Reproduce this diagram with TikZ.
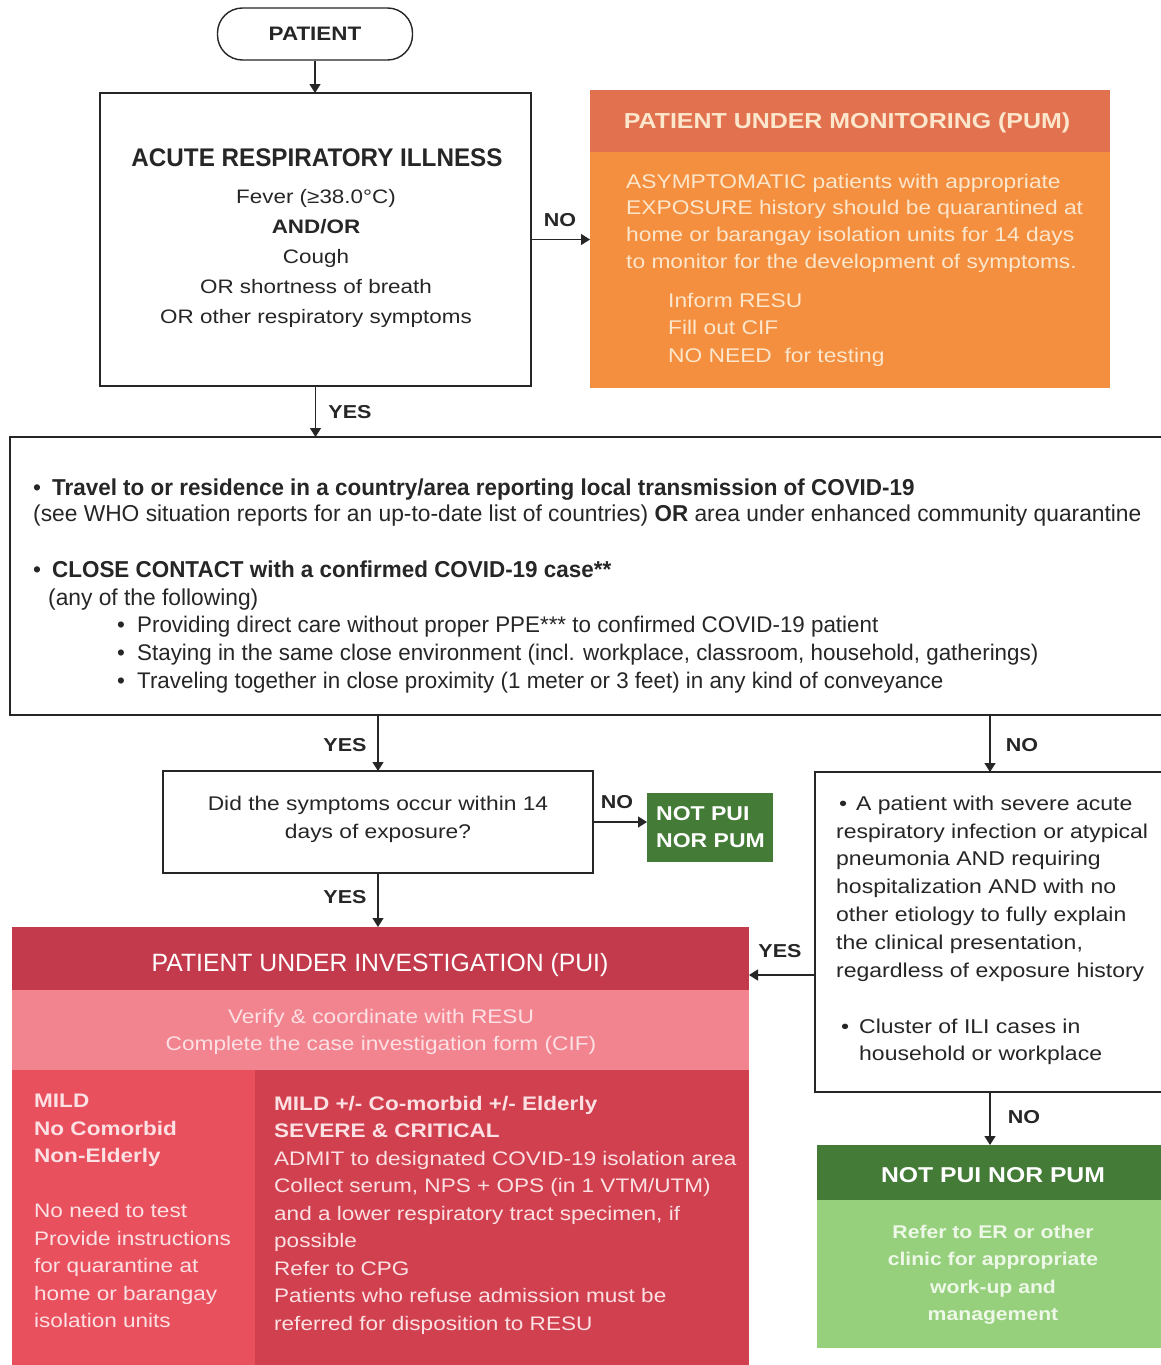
\documentclass[tikz,border=0pt]{standalone}
\usepackage{fontspec}
\setmainfont[FakeStretch=1.15]{Liberation Sans}
\newfontfamily\plainfont[FakeStretch=0.99]{Liberation Sans}
\newfontfamily\plainbold[FakeStretch=0.975,UprightFont={* Bold}]{Liberation Sans}
\newfontfamily\arifont[FakeStretch=0.95]{Liberation Sans}
\usetikzlibrary{arrows.meta}
\definecolor{pumhead}{HTML}{E2714F}
\definecolor{pumbody}{HTML}{F38F3F}
\definecolor{pumtext}{HTML}{FCE6CC}
\definecolor{puihead}{HTML}{C23A4B}
\definecolor{puiband}{HTML}{F2848F}
\definecolor{puileft}{HTML}{E8505E}
\definecolor{puiright}{HTML}{D0404E}
\definecolor{puitext}{HTML}{FCE0E3}
\definecolor{gdark}{HTML}{437B37}
\definecolor{glight}{HTML}{96D07C}
\definecolor{gtext}{HTML}{EEF8E8}
\definecolor{ink}{HTML}{262626}
\newcommand{\fs}[2]{\fontsize{#1}{#2}\selectfont}
\newcommand{\mbold}[1]{{\plainbold\bfseries #1}}
\begin{document}
\begin{tikzpicture}[x=1pt,y=-1pt,
  box/.style={draw=ink,line width=1.4pt,anchor=north west,inner sep=0,outer sep=0},
  fillbox/.style={anchor=north west,inner sep=0,outer sep=0,draw=none},
  arr/.style={draw=ink,line width=1.4pt,-{Triangle[width=11pt,length=9pt]}},
  lbl/.style={font=\bfseries\fs{18.7}{19},text=ink,inner sep=0},
  txt/.style={inner sep=0,text=ink},
]
\useasboundingbox (0,0) rectangle (1160,1365);
\fill[white] (0,0) rectangle (1160,1365);

% PATIENT
\node[draw=ink,line width=1.4pt,rounded corners=25pt,minimum width=195pt,minimum height=52pt,inner sep=0,font=\bfseries\fs{19.5}{19},text=ink] (patient) at (315,34) {PATIENT};

% ARI
\node[box,minimum width=431pt,minimum height=293pt] (ari) at (100,93) {};
\node[txt,anchor=north,font=\arifont\bfseries\fs{25.5}{25}] (arititle) at (317,148) {ACUTE RESPIRATORY ILLNESS};
\node[txt,anchor=north,align=center,font=\fs{19.5}{30}] (aribody) at (316,189) {Fever (≥38.0°C)\\\textbf{AND/OR}\\Cough\\OR shortness of breath\\OR other respiratory symptoms};

% PUM
\node[fillbox,fill=pumbody,minimum width=520pt,minimum height=298pt] (pum) at (590,90) {};
\node[fillbox,fill=pumhead,minimum width=520pt,minimum height=62pt] (pumhead) at (590,90) {};
\node[txt,anchor=north,text=pumtext,font=\bfseries\fs{21.7}{21}] (pumtitle) at (847,113) {PATIENT UNDER MONITORING (PUM)};
\node[txt,anchor=north west,align=left,text=pumtext,font=\fs{19.8}{26.7}] (pumbody1) at (626,173.5) {ASYMPTOMATIC patients with appropriate\\EXPOSURE history should be quarantined at\\home or barangay isolation units for 14 days\\to monitor for the development of symptoms.};
\node[txt,anchor=north west,align=left,text=pumtext,font=\fs{19.8}{27.5}] (pumbody2) at (668,292.5) {Inform RESU\\Fill out CIF\\NO NEED\ \ for testing};

% Exposure box
\node[box,minimum width=1160pt,minimum height=278pt] (big) at (10,437) {};
\node[txt,anchor=north west,align=left,font=\plainfont\fs{23}{26}] (mb1) at (33,478.5) {\makebox[19pt][l]{\textbullet}\mbold{Travel to or residence in a country/area reporting local transmission of COVID-19}\\(see WHO situation reports for an up-to-date list of countries) \mbold{OR} area under enhanced community quarantine};
\node[txt,anchor=north west,align=left,font=\plainfont\fs{23}{28}] (mb2) at (33,560.5) {\makebox[19pt][l]{\textbullet}\mbold{CLOSE CONTACT with a confirmed COVID-19 case**}};
\node[txt,anchor=north west,align=left,font=\plainfont\fs{23}{28}] (mb3) at (48,588.5) {(any of the following)};
\node[txt,anchor=north west,align=left,font=\plainfont\fs{22.6}{28}] (mb4) at (117,615.5) {\makebox[20pt][l]{\textbullet}Providing direct care without proper PPE*** to confirmed COVID-19 patient\\\makebox[20pt][l]{\textbullet}Staying in the same close environment (incl. workplace, classroom, household, gatherings)\\\makebox[20pt][l]{\textbullet}Traveling together in close proximity (1 meter or 3 feet) in any kind of conveyance};

% Question box
\node[box,minimum width=430pt,minimum height=102pt] (qbox) at (163,771) {};
\node[txt,anchor=north,align=center,font=\fs{19.8}{28}] (qtext) at (378,795.5) {Did the symptoms occur within 14\\days of exposure?};

% small green
\node[fillbox,fill=gdark,minimum width=126pt,minimum height=69pt] (nopui) at (647,793) {};
\node[txt,anchor=north west,align=left,text=white,font=\bfseries\fs{20}{27}] (nopuitext) at (656,806) {NOT PUI\\NOR PUM};

% Right box
\node[box,minimum width=350pt,minimum height=320pt] (rbox) at (815,772) {};
\node[txt,anchor=north west,align=left,font=\fs{20}{27.8}] (rtext1) at (836,795.5) {\makebox[20pt][l]{\hspace{3pt}\textbullet}A patient with severe acute\\respiratory infection or atypical\\pneumonia AND requiring\\hospitalization AND with no\\other etiology to fully explain\\the clinical presentation,\\regardless of exposure history};
\node[txt,anchor=north west,align=left,font=\fs{20}{27.5}] (rtext2) at (841,1018.5) {\makebox[18pt][l]{\textbullet}Cluster of ILI cases in\\\hspace*{18pt}household or workplace};

% PUI
\node[fillbox,minimum width=737pt,minimum height=438pt] (pui) at (12,927) {};
\node[fillbox,fill=puihead,minimum width=737pt,minimum height=63pt] (puihead) at (12,927) {};
\node[fillbox,fill=puiband,minimum width=737pt,minimum height=80pt] (puiband) at (12,990) {};
\node[fillbox,fill=puileft,minimum width=243pt,minimum height=295pt] (puileft) at (12,1070) {};
\node[fillbox,fill=puiright,minimum width=494pt,minimum height=295pt] (puiright) at (255,1070) {};
\node[txt,anchor=north,text=white,font=\plainfont\fs{25}{25}] (puititle) at (380,953) {PATIENT UNDER INVESTIGATION (PUI)};
\node[txt,anchor=north,align=center,text=puitext,font=\fs{19.7}{27}] (puibandtext) at (381,1009) {Verify \& coordinate with RESU\\Complete the case investigation form (CIF)};
\node[txt,anchor=north west,align=left,text=puitext,font=\fs{19.6}{27.5}] (puilefttext) at (34,1094) {\textbf{MILD}\\\textbf{No Comorbid}\\\textbf{Non-Elderly}\\[27.5pt]No need to test\\Provide instructions\\for quarantine at\\home or barangay\\isolation units};
\node[txt,anchor=north west,align=left,text=puitext,font=\fs{19.6}{27.5}] (puirighttext) at (274,1096) {\textbf{MILD +/- Co-morbid +/- Elderly}\\\textbf{SEVERE \& CRITICAL}\\ADMIT to designated COVID-19 isolation area\\Collect serum, NPS + OPS (in 1 VTM/UTM)\\and a lower respiratory tract specimen, if\\possible\\Refer to CPG\\Patients who refuse admission must be\\referred for disposition to RESU};

% Bottom green
\node[fillbox,fill=glight,minimum width=348pt,minimum height=203pt] (gbox) at (817,1145) {};
\node[fillbox,fill=gdark,minimum width=348pt,minimum height=55pt] (gboxhead) at (817,1145) {};
\node[txt,anchor=north,text=white,font=\bfseries\fs{21.5}{21}] (gtitle) at (993,1167) {NOT PUI NOR PUM};
\node[txt,anchor=north,align=center,text=gtext,font=\bfseries\fs{18.4}{27.4}] (gbody) at (993,1225) {Refer to ER or other\\clinic for appropriate\\work-up and\\management};

% connectors
\coordinate (yesrow) at (0,975);
\draw[arr] (patient.south) -- (patient.south |- ari.north);
\draw[arr] (ari.east) -- (ari.east -| pum.west);
\draw[arr] (ari.south) -- (ari.south |- big.north);
\draw[arr] (qbox.north |- big.south) -- (qbox.north);
\draw[arr] (rbox.north |- big.south) -- (rbox.north);
\draw[arr] (qbox.east) -- (qbox.east -| nopui.west);
\draw[arr] (qbox.south) -- (qbox.south |- pui.north);
\draw[arr] (rbox.west |- yesrow) -- (pui.east |- yesrow);
\draw[arr] (rbox.south) -- (rbox.south |- gbox.north);

% labels
\node[lbl] (l1) at (560,220) {NO};
\node[lbl] (l2) at (350,412) {YES};
\node[lbl] (l3) at (345,745) {YES};
\node[lbl] (l4) at (1022,745) {NO};
\node[lbl] (l5) at (617,802) {NO};
\node[lbl] (l6) at (345,897) {YES};
\node[lbl] (l7) at (780,951) {YES};
\node[lbl] (l8) at (1024,1117) {NO};
\end{tikzpicture}
\end{document}
